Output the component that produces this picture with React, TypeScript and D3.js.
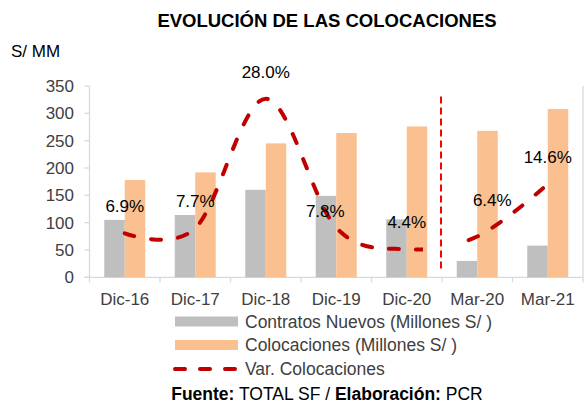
import React from "react";
import * as d3 from "d3";

const categories = ["Dic-16", "Dic-17", "Dic-18", "Dic-19", "Dic-20", "Mar-20", "Mar-21"];
const contratos = [105, 114, 160, 149, 106, 30, 58];
const colocaciones = [178, 192, 245, 264, 276, 268, 308];
const variacion = [6.9, 7.7, 28.0, 7.8, 4.4, 6.4, 14.6];
const yTicks = [0, 50, 100, 150, 200, 250, 300, 350];
const seriesNames = [
  "Contratos Nuevos (Millones S/ )",
  "Colocaciones (Millones S/ )",
  "Var. Colocaciones",
];

// layout-only nudges for the percentage labels [dx, dy]
const labelNudge = [[0, 0], [0, 0], [0, 0], [-11, 10], [0, 0], [15, -9], [0, 0]];

const W = 585;
const H = 403;
const FONT = "'Liberation Sans', Arial, Helvetica, sans-serif";
const GRAY = "#BFBFBF";
const ORANGE = "#FAC090";
const RED = "#C00000";
const AXIS = "#D9D9D9";
const TXT = "#404040";

export default function App() {
  const left = 89.5;
  const right = 583;
  const top = 86;
  const bottom = 277.3;

  const x = d3.scaleBand<string>().domain(categories).range([left, right]).padding(0);
  const inner = d3
    .scaleBand<string>()
    .domain(["c", "k"])
    .range([0, x.bandwidth()])
    .paddingInner(0)
    .paddingOuter(0.72);
  const y = d3.scaleLinear().domain([0, 350]).range([bottom, top]);
  const y2 = d3.scaleLinear().domain([0, 30]).range([bottom, top]);

  const cx = (c: string) => (x(c) as number) + x.bandwidth() / 2;

  const pts: [number, number][] = categories.map((c, i) => [cx(c), y2(variacion[i])]);
  const linePath = d3.line().curve(d3.curveCardinal.tension(0))(pts) as string;

  const sepX = (x("Mar-20") as number) - 1;
  const gapL = sepX - 18;
  const gapR = sepX + 19;

  return (
    <svg
      width={W}
      height={H}
      style={{ position: "absolute", left: 0, top: 0, background: "#fff" }}
      fontFamily={FONT}
    >
      <defs>
        <clipPath id="lineClip">
          <rect x={0} y={0} width={gapL} height={H} />
          <rect x={gapR} y={0} width={W - gapR} height={H} />
        </clipPath>
      </defs>
      <rect x={0} y={0} width={W} height={H} fill="#fff" />

      {/* title */}
      <text x={327} y={26.5} textAnchor="middle" fontSize={18.5} fontWeight="bold" fill="#000">
        EVOLUCIÓN DE LAS COLOCACIONES
      </text>
      <text x={11} y={57} fontSize={17} fill="#000">
        S/ MM
      </text>

      {/* axes */}
      <line x1={left} x2={left} y1={top} y2={bottom} stroke={AXIS} strokeWidth={1.3} />
      <line x1={right} x2={right} y1={top} y2={bottom} stroke={AXIS} strokeWidth={1.3} />
      <line x1={left - 5} x2={right} y1={bottom} y2={bottom} stroke={AXIS} strokeWidth={1.3} />
      {yTicks.map((t) => (
        <g key={t}>
          <line x1={left - 5} x2={left} y1={y(t)} y2={y(t)} stroke={AXIS} strokeWidth={1.3} />
          <text x={74} y={y(t)} dy="0.35em" textAnchor="end" fontSize={17} fill={TXT}>
            {t}
          </text>
        </g>
      ))}
      {categories.map((c) => (
        <line
          key={"t" + c}
          x1={x(c) as number}
          x2={x(c) as number}
          y1={bottom}
          y2={bottom + 5}
          stroke={AXIS}
          strokeWidth={1.3}
        />
      ))}
      <line x1={right} x2={right} y1={bottom} y2={bottom + 5} stroke={AXIS} strokeWidth={1.3} />
      {categories.map((c) => (
        <text key={"l" + c} x={cx(c)} y={304.5} textAnchor="middle" fontSize={17} fill={TXT}>
          {c}
        </text>
      ))}

      {/* bars */}
      {categories.map((c, i) => (
        <g key={"b" + c}>
          <rect
            x={(x(c) as number) + (inner("c") as number)}
            y={y(contratos[i])}
            width={inner.bandwidth()}
            height={bottom - y(contratos[i])}
            fill={GRAY}
          />
          <rect
            x={(x(c) as number) + (inner("k") as number)}
            y={y(colocaciones[i])}
            width={inner.bandwidth()}
            height={bottom - y(colocaciones[i])}
            fill={ORANGE}
          />
        </g>
      ))}

      {/* separator */}
      <line
        x1={sepX}
        x2={sepX}
        y1={y(331)}
        y2={y(10)}
        stroke="#FF0000"
        strokeWidth={2}
        strokeDasharray="7 4"
      />

      {/* variation line */}
      <path
        d={linePath}
        fill="none"
        stroke={RED}
        strokeWidth={4}
        strokeDasharray="10 17"
        strokeLinecap="round"
        clipPath="url(#lineClip)"
      />

      {/* labels */}
      {categories.map((c, i) => (
        <text
          key={"v" + c}
          x={cx(c) + labelNudge[i][0]}
          y={y2(variacion[i]) - 21 + labelNudge[i][1]}
          textAnchor="middle"
          fontSize={17}
          fill="#000"
        >
          {variacion[i].toFixed(1) + "%"}
        </text>
      ))}

      {/* legend */}
      <rect x={175} y={316.5} width={63} height={10} fill={GRAY} />
      <text x={245} y={328} fontSize={17.5} fill={TXT}>
        {seriesNames[0]}
      </text>
      <rect x={175} y={340} width={63} height={10} fill={ORANGE} />
      <text x={245} y={351} fontSize={17.5} fill={TXT}>
        {seriesNames[1]}
      </text>
      <line
        x1={175}
        x2={238}
        y1={369}
        y2={369}
        stroke={RED}
        strokeWidth={4}
        strokeDasharray="10 15"
        strokeLinecap="round"
      />
      <text x={245} y={375} fontSize={17.5} fill={TXT}>
        {seriesNames[2]}
      </text>

      {/* source */}
      <text x={327} y={400} textAnchor="middle" fontSize={17.5} fill="#000">
        <tspan fontWeight="bold">Fuente:</tspan>
        <tspan> TOTAL SF / </tspan>
        <tspan fontWeight="bold">Elaboración:</tspan>
        <tspan> PCR</tspan>
      </text>
    </svg>
  );
}
